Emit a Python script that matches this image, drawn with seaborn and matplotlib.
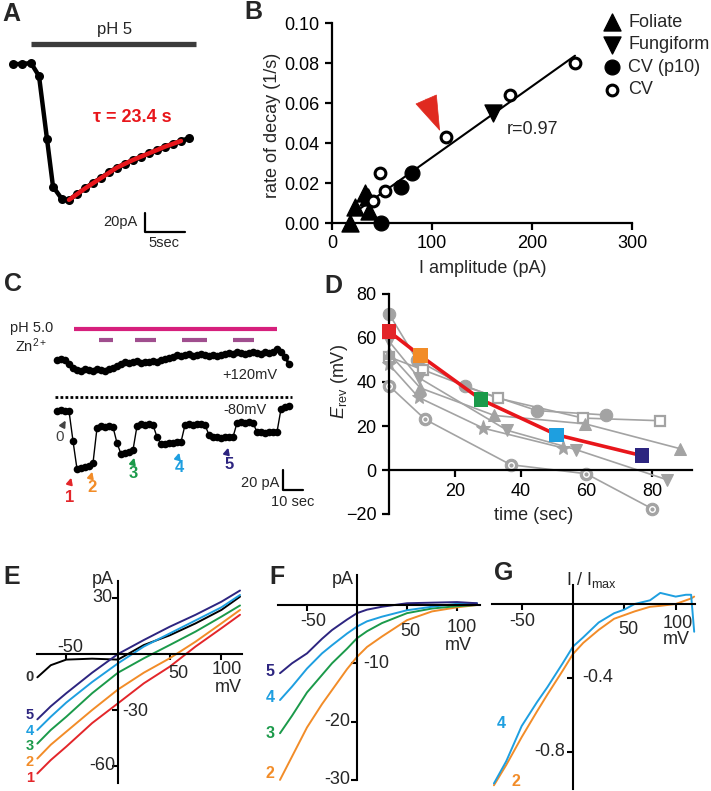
import matplotlib
matplotlib.use("Agg")
import matplotlib.pyplot as plt
import seaborn as sns
import numpy as np

# ------------------------------------------------------------------ data
# Panel A: pH 5 response (time s, current pA) and exponential fit
a_time = [0, 1.1, 2.25, 3.25, 4.25, 5.0, 6.1, 7, 8, 9, 10, 11, 12, 13, 14, 15, 16, 17, 18, 19, 20, 21, 22]
a_current = [0, 0, 1, -12.6, -79, -129, -142, -143, -137, -131, -125, -120, -114, -109, -105,
             -101, -98, -94, -91, -87, -84, -81, -78]
a_fit_time = [7, 9, 11, 13, 15, 17, 19, 21]
a_fit_current = [-143, -131, -120, -109, -101, -94, -87, -81]
a_tau_label = "τ = 23.4 s"

# Panel B: rate of decay vs amplitude
fol_amp = [18, 23, 33, 36, 37]
fol_rate = [0.0, 0.008, 0.015, 0.013, 0.006]
fung_amp = [161]
fung_rate = [0.055]
cvp10_amp = [49, 69, 80]
cvp10_rate = [0.0, 0.018, 0.025]
cv_amp = [41, 48, 53, 114, 178, 243]
cv_rate = [0.011, 0.025, 0.016, 0.043, 0.064, 0.080]
b_legend = ["Foliate", "Fungiform", "CV (p10)", "CV"]
b_xticks = [0, 100, 200, 300]
b_yticks = [0.00, 0.02, 0.04, 0.06, 0.08, 0.10]

# Panel C: current traces (time s, pA relative to baseline)
c_time = list(range(0, 117, 2))
c_top = [0, 1, 0, -4, -8, -10, -11, -9, -10, -11, -9, -10, -11, -9, -8, -6, -4,
         -2, -3, -2, -1, -3, -2, -2, -1, -2, 0, 1, 2, 3,
         5, 4, 5, 6, 4, 5, 6, 5, 4, 5, 4, 5, 6,
         7, 6, 8, 7, 6, 7, 8, 7, 6, 8, 7, 8, 11, 8, 3, -4]
c_bottom = [0, 1, 0, 0, -30, -58, -57, -56, -55, -52, -17, -15, -16, -15, -16, -32,
            -43, -42, -41, -39, -15, -13, -14, -13, -14, -26, -33, -33, -32, -32, -31, -31,
            -14, -13, -14, -13, -13, -14, -24, -26, -26, -27, -26, -26, -26,
            -12, -11, -12, -11, -12, -21, -21, -22, -21, -21, -21, 2, 4, 5]
c_ph_window = [8.5, 110]
c_zn_windows = [[21, 28], [39, 49.5], [62.5, 75], [88, 98.5]]

# Panel D: reversal potential vs time
d_circ_t = [0, 8.5, 23, 45, 66];      d_circ_v = [71, 50, 38, 27, 25]
d_osq_t = [0, 10.2, 33, 59, 82.4];    d_osq_v = [51.4, 45.6, 32.7, 23.6, 22.4]
d_tri_t = [0, 9.5, 32, 59.6, 88.5];   d_tri_v = [53, 37.3, 24.8, 21, 9.7]
d_dtri_t = [0, 9, 36, 57, 84.5];      d_dtri_v = [58.5, 42, 18, 9.2, -4.4]
d_star_t = [0, 9, 28.7, 53];          d_star_v = [48, 33, 19, 10]
d_ring_t = [0, 11, 37, 60, 80];       d_ring_v = [38.3, 23, 2.4, -1.7, -17.6]
d_red_t = [0, 9.5, 28, 51, 77];       d_red_v = [63, 52, 32, 16, 6.5]

# Panel E: I-V curves (mV, pA)
e_mv = [-78, -65, -50, -25, 0, 25, 50, 75, 100, 118]
e_0 = [-12.5, -6, -3, -2.5, -3, 4.8, 10, 16.4, 23.6, 30.7]
e_5 = [-35, -28, -21, -10, 0, 7.5, 14.6, 21, 28, 34]
e_4 = [-40.7, -33.6, -26, -15, -5, 4, 11, 18, 25, 31.6]
e_3 = [-48, -40.7, -33.6, -21, -10, -2.3, 4.8, 12, 20, 26]
e_2 = [-56, -48.6, -41.6, -30, -19, -10, -2.3, 6.6, 16.4, 23.6]
e_1 = [-64, -56.8, -49.6, -37, -26.4, -15.7, -6.8, 4, 13.8, 21]

# Panel F: Zn-sensitive currents (mV, pA)
f_mv = [-77, -65, -50, -35, -25, -10, 0, 10, 25, 50, 75, 100, 120]
f_5 = [-11.7, -10, -8.3, -5.8, -4.3, -2.5, -1.4, -0.8, -0.3, 0.3, 0.4, 0.5, 0.3]
f_4 = [-16.3, -14, -10.9, -8.3, -6.9, -4.9, -3.7, -2.8, -2, -0.9, -0.3, 0.2, 0.3]
f_3 = [-22, -19, -15, -12, -10, -7.5, -5.7, -4.5, -3.1, -1.4, -0.6, -0.2, 0]
f_2 = [-30, -26, -21, -17, -14.6, -11, -8.9, -7.2, -5.4, -2.6, -1.1, -0.4, 0]

# Panel G: normalised (mV, I/Imax)
g_mv = [-77, -65, -50, -35, -25, -10, 0, 10, 25, 40, 50, 60, 75, 85, 100, 110, 115, 118]
g_4 = [-0.97, -0.85, -0.66, -0.53, -0.45, -0.32, -0.23, -0.18, -0.10, -0.05, -0.03, 0.0,
       0.02, 0.06, 0.04, 0.05, 0.05, -0.15]
g_2 = [-0.98, -0.87, -0.72, -0.58, -0.49, -0.36, -0.27, -0.21, -0.14, -0.08, -0.06, -0.04,
       -0.015, -0.01, 0.0, 0.02, 0.03, 0.04]

C_RED, C_ORG, C_GRN, C_BLU, C_NAV = "#e3262a", "#f28c28", "#1b9a4a", "#1e9fe0", "#2d2580"
GRAY = "#a3a3a3"

# ------------------------------------------------------------------ style
sns.set_style("ticks")
plt.rcParams["font.family"] = ["Liberation Sans", "DejaVu Sans"]
plt.rcParams["mathtext.fontset"] = "custom"
plt.rcParams["mathtext.rm"] = "Liberation Sans"
plt.rcParams["mathtext.it"] = "Liberation Sans:italic"
plt.rcParams["mathtext.bf"] = "Liberation Sans:bold"
plt.rcParams["font.size"] = 13
plt.rcParams["axes.linewidth"] = 1.6
plt.rcParams["xtick.major.width"] = 1.6
plt.rcParams["ytick.major.width"] = 1.6
plt.rcParams["xtick.color"] = "black"
plt.rcParams["ytick.color"] = "black"
plt.rcParams["axes.edgecolor"] = "black"

W, H = 711, 791
fig = plt.figure(figsize=(W / 100, H / 100), dpi=100)


def add_ax(x0, x1, y0, y1, xlim, ylim):
    ax = fig.add_axes([x0 / W, 1 - y1 / H, (x1 - x0) / W, (y1 - y0) / H])
    ax.set_xlim(*xlim)
    ax.set_ylim(*ylim)
    ax.set_facecolor("none")
    return ax


def T(px, py, s, **kw):
    kw.setdefault("ha", "center")
    kw.setdefault("va", "center")
    return fig.text(px / W, 1 - py / H, s, **kw)


def arrow(x0, y0, x1, y1, color):
    fig.add_artist(matplotlib.patches.FancyArrowPatch(
        (x0 / W, 1 - y0 / H), (x1 / W, 1 - y1 / H), transform=fig.transFigure,
        arrowstyle="-|>", mutation_scale=9, lw=1.4, color=color))


# panel letters
for lab, (px, py) in zip("ABCDEFG", [(11, 14), (253, 12), (13, 284), (333, 286),
                                     (12, 577), (277, 577), (504, 573)]):
    T(px, py, lab, fontsize=18, fontweight="bold")

# ------------------------------------------------------------------ A
axA = add_ax(0, 220, 10, 250, ((0 - 13) / 8, (220 - 13) / 8), ((64 - 250) / 0.95, (64 - 10) / 0.95))
axA.axis("off")
sns.lineplot(x=a_time, y=a_current, ax=axA, color="black", lw=3.2, marker="o", markersize=6.5,
             markeredgewidth=0, estimator=None, sort=False)
sns.lineplot(x=a_fit_time, y=a_fit_current, ax=axA, color="#e8161b", lw=3.2,
             estimator=None, sort=False, zorder=5)
axA.plot([2.25, 22.9], [21, 21], color="#3c3c3c", lw=3.8, solid_capstyle="butt")
axA.text(12.75, 35.8, "pH 5", ha="center", va="center", fontsize=12)
axA.text(14.9, -56.8, a_tau_label, ha="center", va="center", fontsize=13,
         fontweight="bold", color="#e8161b")
sbx, sby = 16.5, -176.8
axA.plot([sbx, sbx, sbx + 5], [sby + 20, sby, sby], color="black", lw=1.6)
axA.text(15.5, (64 - 222) / 0.95, "20pA", ha="right", va="center", fontsize=10.5)
axA.text(18.9, (64 - 243) / 0.95, "5sec", ha="center", va="center", fontsize=10.5)

# ------------------------------------------------------------------ B
axB = add_ax(332, 632, 23, 223, (0, 300), (0, 0.10))
all_amp = fol_amp + fung_amp + cvp10_amp + cv_amp
all_rate = fol_rate + fung_rate + cvp10_rate + cv_rate
sns.regplot(x=np.array(all_amp), y=np.array(all_rate), scatter=False, ci=None, color="black",
            line_kws=dict(lw=1.5), ax=axB)
sns.scatterplot(x=fol_amp, y=fol_rate, marker="^", s=150, color="black", edgecolor="black",
                ax=axB, label=b_legend[0], clip_on=False, zorder=4)
sns.scatterplot(x=fung_amp, y=fung_rate, marker="v", s=150, color="black", edgecolor="black",
                ax=axB, label=b_legend[1], clip_on=False, zorder=4)
sns.scatterplot(x=cvp10_amp, y=cvp10_rate, marker="o", s=115, color="black", edgecolor="black",
                ax=axB, label=b_legend[2], clip_on=False, zorder=4)
sns.scatterplot(x=cv_amp, y=cv_rate, marker="o", s=60, color="white", edgecolor="black",
                linewidth=2.2, ax=axB, label=b_legend[3], clip_on=False, zorder=4)
axB.set_xlim(0, 300)
axB.set_ylim(0, 0.10)
axB.set_xticks(b_xticks)
axB.set_yticks(b_yticks)
axB.set_yticklabels([f"{v:.2f}" for v in b_yticks])
axB.tick_params(length=5, pad=4, labelsize=13)
sns.despine(ax=axB)
axB.set_xlabel("I amplitude (pA)", fontsize=13)
axB.set_ylabel("rate of decay (1/s)", fontsize=13)
axB.xaxis.set_label_coords(0.503, -0.185)
axB.yaxis.set_label_coords(-0.17, 0.49)
axB.legend(loc="upper left", bbox_to_anchor=(603 / W, 1 - 14 / H), bbox_transform=fig.transFigure,
           frameon=False, borderaxespad=0, borderpad=0, handletextpad=0.4, labelspacing=0.3,
           handlelength=1.0, fontsize=13)
axB.annotate("", xy=(108, 0.046), xytext=(94, 0.062),
             arrowprops=dict(arrowstyle="-|>,head_length=1.5,head_width=0.5", color="#e02a20",
                             lw=0.5, mutation_scale=16, shrinkA=0, shrinkB=0))
axB.text(201, 0.047, "r=0.97", ha="center", va="center", fontsize=13)

# ------------------------------------------------------------------ C
axC = add_ax(0, 320, 280, 520, ((0 - 57) / 2, (320 - 57) / 2), (411 - 520, 411 - 280))
axC.axis("off")
sns.lineplot(x=c_time, y=np.array(c_top) + 51, ax=axC, color="black", lw=2.0, marker="o",
             markersize=5.5, markeredgewidth=0, estimator=None, sort=False)
sns.lineplot(x=c_time, y=c_bottom, ax=axC, color="black", lw=1.0, marker="o",
             markersize=5.5, markeredgewidth=0, estimator=None, sort=False)
axC.plot(c_ph_window, [82, 82], color="#d6207c", lw=3, solid_capstyle="butt")
for z0, z1 in c_zn_windows:
    axC.plot([z0, z1], [71, 71], color="#a04e8e", lw=3, solid_capstyle="butt")
axC.plot([-1, 117.5], [14, 14], color="black", lw=2, ls=(0, (1, 0.8)))
scx, scy = 113, -79
axC.plot([scx, scx, scx + 10], [scy + 20, scy, scy], color="black", lw=1.6)
T(32, 328, "pH 5.0", fontsize=10.5)
T(31, 346, r"Zn$^{2+}$", fontsize=10.5)
T(277, 375, "+120mV", ha="right", fontsize=10.5)
T(267, 410, "-80mV", ha="right", fontsize=10.5)
T(279, 483, "20 pA", ha="right", fontsize=10.5)
T(293, 502, "10 sec", fontsize=10.5)
T(60, 437, "0", fontsize=11, color="#444444")
arrow(61, 429, 67, 418, "#444444")
for s, col, (tx, ty), (ax0, ay0, ax1, ay1) in [
        ("1", C_RED, (70, 497), (69, 486, 72, 475)),
        ("2", C_ORG, (92, 487), (90, 480, 93, 469)),
        ("3", C_GRN, (133, 474), (132, 466, 135, 455)),
        ("4", C_BLU, (179, 468), (177, 461, 180, 450)),
        ("5", C_NAV, (229, 465), (226, 456, 229, 445))]:
    T(tx, ty, s, fontsize=12, fontweight="bold", color=col)
    arrow(ax0, ay0, ax1, ay1, col)

# ------------------------------------------------------------------ D
axD = add_ax(389, 691.5, 294, 514, (0, 92), (-20, 80))
for (tt, vv, mk, kw) in [
        (d_circ_t, d_circ_v, "o", dict(markersize=9)),
        (d_osq_t, d_osq_v, "s", dict(markersize=7.5, markerfacecolor="white", markeredgewidth=1.6)),
        (d_tri_t, d_tri_v, "^", dict(markersize=9)),
        (d_dtri_t, d_dtri_v, "v", dict(markersize=9)),
        (d_star_t, d_star_v, "*", dict(markersize=11)),
        (d_ring_t, d_ring_v, "o", dict(markersize=9))]:
    kw.setdefault("markeredgecolor", GRAY)
    sns.lineplot(x=tt, y=vv, ax=axD, color=GRAY, lw=1.2, marker=mk, estimator=None, sort=False,
                 clip_on=False, **kw)
sns.lineplot(x=d_ring_t, y=d_ring_v, ax=axD, color=GRAY, lw=0, marker="o", markersize=4,
             markerfacecolor=GRAY, markeredgecolor="white", markeredgewidth=1.0,
             estimator=None, sort=False, clip_on=False)
sns.lineplot(x=d_red_t, y=d_red_v, ax=axD, color="#e8161b", lw=2.6, estimator=None, sort=False,
             clip_on=False, zorder=5)
sns.scatterplot(x=d_red_t, y=d_red_v, ax=axD, marker="s", s=110, hue=[0, 1, 2, 3, 4],
                palette=[C_RED, C_ORG, C_GRN, C_BLU, C_NAV], legend=False, linewidth=0,
                clip_on=False, zorder=6)
axD.set_xlim(0, 92)
axD.set_ylim(-20, 80)
sns.despine(ax=axD)
axD.spines["bottom"].set_position(("data", 0))
axD.set_xticks([20, 40, 60, 80])
axD.set_yticks([-20, 0, 20, 40, 60, 80])
axD.tick_params(length=5, pad=4, labelsize=13)
axD.set_xlabel("time (sec)", fontsize=13)
axD.set_ylabel(r"$\mathit{E}_{\rm rev}$ (mV)", fontsize=13)
axD.xaxis.set_label_coords(0.477, 0.03)
axD.yaxis.set_label_coords(-0.13, 0.6)


# ------------------------------------------------------------------ E / F / G
def iv_axes(box, x0px, y0px, sx, sy, xb, yb, xt, yt):
    x0, x1, y0, y1 = box
    ax = add_ax(x0, x1, y0, y1, ((x0 - x0px) / sx, (x1 - x0px) / sx),
                ((y0px - y1) / sy, (y0px - y0) / sy))
    for sp in ["top", "right"]:
        ax.spines[sp].set_visible(False)
    ax.spines["left"].set_position(("data", 0))
    ax.spines["bottom"].set_position(("data", 0))
    ax.spines["left"].set_bounds(*yb)
    ax.spines["bottom"].set_bounds(*xb)
    ax.spines["left"].set_linewidth(1.5)
    ax.spines["bottom"].set_linewidth(1.5)
    ax.set_xticks(xt)
    ax.set_yticks(yt)
    ax.set_xticklabels([])
    ax.set_yticklabels([])
    ax.tick_params(length=4, width=1.5, direction="out")
    return ax


axE = iv_axes((30, 245, 575, 790), 118, 654, 1.034, 1.867, (-78, 120), (-69, 39),
              [-50, 50, 100], [30, -30, -60])
for yy, col in [(e_0, "black"), (e_1, C_RED), (e_2, C_ORG), (e_3, C_GRN), (e_4, C_BLU), (e_5, C_NAV)]:
    sns.lineplot(x=e_mv, y=yy, ax=axE, color=col, lw=1.4, estimator=None, sort=False)
T(103, 579, "pA", fontsize=13)
T(112, 597, "30", ha="right", fontsize=13)
T(122, 711, "-30", ha="left", fontsize=13)
T(115, 766, "-60", ha="right", fontsize=13)
T(70, 647, "-50", fontsize=13)
T(178, 673, "50", fontsize=13)
T(227, 670, "100", fontsize=13)
T(228, 687, "mV", fontsize=13)
for s, col, py in [("0", "#333333", 677), ("5", C_NAV, 715), ("4", C_BLU, 731), ("3", C_GRN, 746),
                   ("2", C_ORG, 762), ("1", C_RED, 778)]:
    T(30, py, s, fontsize=10.5, fontweight="bold", color=col)

axF = iv_axes((265, 490, 570, 790), 357, 605, 1.0, 5.83, (-79, 123), (-30, 5.1),
              [-50, 50, 100], [-10, -20, -30])
for yy, col in [(f_2, C_ORG), (f_3, C_GRN), (f_4, C_BLU), (f_5, C_NAV)]:
    sns.lineplot(x=f_mv, y=yy, ax=axF, color=col, lw=1.4, estimator=None, sort=False)
T(343, 580, "pA", fontsize=13)
T(313, 622, "-50", fontsize=13)
T(410, 631, "50", fontsize=13)
T(462, 628, "100", fontsize=13)
T(458, 646, "mV", fontsize=13)
T(363, 663, "-10", ha="left", fontsize=13)
T(350, 722, "-20", ha="right", fontsize=13)
T(350, 780, "-30", ha="right", fontsize=13)
for s, col, py in [("5", C_NAV, 672), ("4", C_BLU, 698), ("3", C_GRN, 733), ("2", C_ORG, 774)]:
    T(270, py, s, fontsize=11.5, fontweight="bold", color=col)

axG = iv_axes((485, 711, 570, 790), 573, 604, 1.027, 185, (-79, 119), (-1.0, 0.10),
              [-50, 50, 100], [-0.4, -0.8])
for yy, col in [(g_2, C_ORG), (g_4, C_BLU)]:
    sns.lineplot(x=g_mv, y=yy, ax=axG, color=col, lw=1.4, estimator=None, sort=False)
T(591, 580, r"I / I$_{\rm max}$", fontsize=13)
T(522, 621, "-50", fontsize=13)
T(628, 630, "50", fontsize=13)
T(678, 623, "100", fontsize=13)
T(676, 639, "mV", fontsize=13)
T(582, 677, "-0.4", ha="left", fontsize=13)
T(565, 752, "-0.8", ha="right", fontsize=13)
T(501, 723, "4", fontsize=11.5, fontweight="bold", color=C_BLU)
T(516, 781, "2", fontsize=11.5, fontweight="bold", color=C_ORG)

fig.savefig("out.png", dpi=100)
